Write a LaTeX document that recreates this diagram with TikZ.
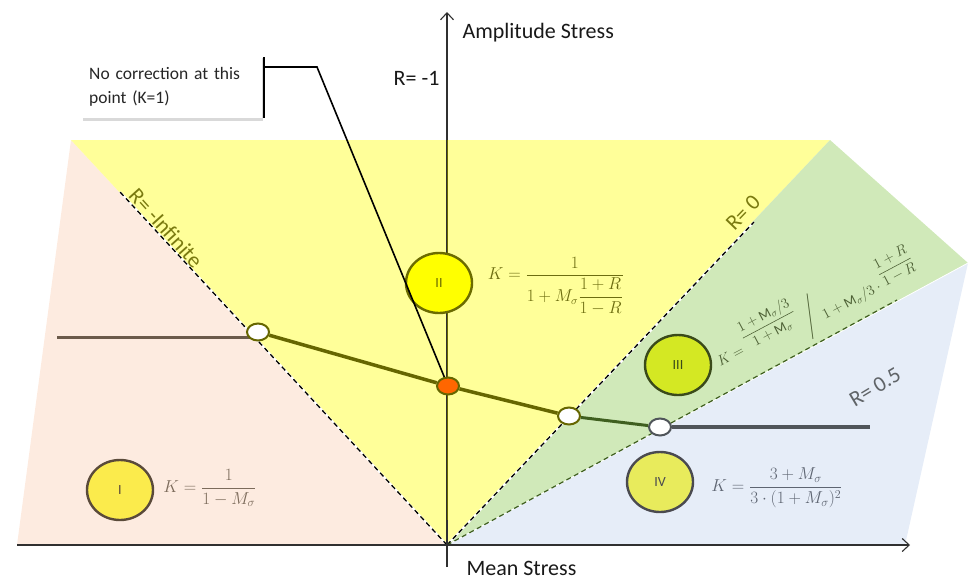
\documentclass[tikz,border=0pt]{standalone}
\usepackage{fontspec}
\setmainfont{Carlito}
\usepackage{amsmath}
\usepackage{graphicx}
\usetikzlibrary{arrows.meta,shapes.geometric,shadows}
\definecolor{pinkc}{HTML}{FDEBE0}
\definecolor{yellowc}{HTML}{FFFF99}
\definecolor{greenc}{HTML}{D0E9B9}
\definecolor{bluec}{HTML}{E6EDF8}
\definecolor{axisc}{HTML}{303030}
\definecolor{olivec}{HTML}{666600}
\definecolor{olivetxt}{HTML}{7A7A10}
\definecolor{dgreenc}{HTML}{3F5F1F}
\definecolor{grayline}{HTML}{50555A}
\definecolor{brownline}{HTML}{6B5A4A}
\definecolor{cIfill}{HTML}{FBEB4C}
\definecolor{cIdraw}{HTML}{5A4A3A}
\definecolor{cIIfill}{HTML}{FFFF00}
\definecolor{cIIdraw}{HTML}{6B6B00}
\definecolor{cIIIfill}{HTML}{D4E823}
\definecolor{cIIIdraw}{HTML}{3A4A1A}
\definecolor{cIVfill}{HTML}{E8EB5C}
\definecolor{cIVdraw}{HTML}{4A4A50}
\definecolor{fIc}{HTML}{7C6B5B}
\definecolor{fIIc}{HTML}{6D6D10}
\definecolor{fIIIc}{HTML}{4D6035}
\definecolor{fIVc}{HTML}{5E6572}
\definecolor{orangec}{HTML}{FF6600}
\definecolor{rhalfc}{HTML}{606468}
\begin{document}
\begin{tikzpicture}[x=1pt,y=-1pt,
  axisline/.style={draw=axisc, line width=1.1pt, -{Straight Barb[length=7pt,width=13pt,line width=1.1pt]}},
  bigcircle/.style={ellipse, minimum width=66pt, minimum height=60pt, line width=2.4pt, inner sep=0pt, font=\fontsize{14}{16}\selectfont},
  pt/.style={ellipse, minimum width=22pt, minimum height=17pt, inner sep=0pt, line width=2pt, fill=white},
  formula/.style={font=\fontsize{17}{20}\selectfont},
  rlabel/.style={font=\fontsize{22}{25}\selectfont},
  axlabel/.style={font=\fontsize{22}{25}\selectfont, text=black!90},
  wdash/.style={draw=white, line width=2pt},
  bdash/.style={draw=black, line width=1.3pt, dash pattern=on 5pt off 3.5pt},
]
\useasboundingbox (0,0) rectangle (968,579);
% regions
\fill[pinkc] (71,140) -- (447,545) -- (17,545) -- cycle;
\fill[yellowc] (71,140) -- (830,140) -- (447,545) -- cycle;
\fill[greenc] (447,545) -- (830,140) -- (968,263) -- cycle;
\fill[bluec] (447,545) -- (968,263) -- (905,545) -- cycle;
\draw[white, line width=0.8pt] (447,545) -- (968,263);
% key coordinates
\coordinate (O) at (447,545);
\coordinate (xa0) at (17,545);
\coordinate (xa1) at (910,545);
\coordinate (ya0) at (447,567);
\coordinate (ya1) at (447,12);
\coordinate (yolive0) at (447,140);
\coordinate (yolive1) at (447,520);
\coordinate (dInf) at (120,192);
\coordinate (dZero) at (754,222);
\coordinate (dHalf) at (897,300);
\coordinate (c1) at (258,332);
\coordinate (c2) at (448,386);
\coordinate (c3) at (569,416);
\coordinate (c4) at (660,427);
\coordinate (L0) at (57,337);
\coordinate (L5) at (870,427);
% dashed boundary lines
\draw[wdash] (O) -- (dInf);
\draw[bdash] (O) -- (dInf);
\draw[wdash] (O) -- (dZero);
\draw[bdash] (O) -- (dZero);
\draw[draw=dgreenc, line width=1.2pt, dash pattern=on 5pt off 3.5pt] (O) -- (dHalf);
% axes
\draw[axisline] (xa0) -- (xa1);
\draw[axisline] (ya0) -- (ya1);
\draw[olivec, line width=1pt] (yolive0) -- (yolive1);
% region labels
\node[rlabel, text=olivetxt, rotate=-48] (rinf) at (166,228) {R= -Infinite};
\node[rlabel, text=olivetxt, rotate=46] (rzero) at (743,213) {R= 0};
\node[rlabel, text=rhalfc, rotate=31] (rhalf) at (875,387) {R= 0.5};
\node[axlabel, anchor=west] (amp) at (459,33) {Amplitude Stress};
\node[axlabel, anchor=west] (mean) at (463,568) {Mean Stress};
\node[axlabel, anchor=east] (rm1) at (443,78) {R= -1};
% big circles
\node[bigcircle, fill=cIfill, draw=cIdraw, text=cIdraw] (I) at (120,490) {I};
\node[bigcircle, fill=cIIfill, draw=cIIdraw, text=cIIdraw] (II) at (439,283) {II};
\node[bigcircle, fill=cIIIfill, draw=cIIIdraw, text=cIIIdraw] (III) at (678,365) {III};
\node[bigcircle, fill=cIVfill, draw=cIVdraw, text=cIVdraw] (IV) at (660,482) {IV};
% formulas
\node[formula, text=fIc] (fI) at (210,488) {$\displaystyle K=\frac{1}{1-M_\sigma}$};
\node[formula, text=fIIc, font=\fontsize{16}{19}\selectfont] (fII) at (556,286) {$\displaystyle K=\frac{1}{1+M_\sigma\dfrac{1+R}{1-R}}$};
\node[formula, text=fIVc] (fIV) at (777,488) {$\displaystyle K=\frac{3+M_\sigma}{3\cdot(1+M_\sigma)^2}$};
\node[formula, text=fIIIc, rotate=28, font=\fontsize{14}{17}\selectfont] (fIII) at (815,310) {$K=\raisebox{1.6ex}{$\dfrac{1+\mathrm{M}_\sigma/3}{1+\mathrm{M}_\sigma}$}\,\raisebox{-0.4ex}{$\Bigg/$}\,\raisebox{-1.2ex}{$1+\mathrm{M}_\sigma/3\cdot\raisebox{1.6ex}{$\dfrac{1+R}{1-R}$}$}$};
% curve lines
\draw[brownline, line width=3pt] (L0) -- (L0 -| c1);
\node[pt, draw=olivec] (P1) at (c1) {};
\node[pt, draw=olivec, fill=orangec] (P2) at (c2) {};
\node[pt, draw=olivec] (P3) at (c3) {};
\node[pt, draw=grayline] (P4) at (c4) {};
\draw[olivec, line width=3.5pt] (P1) -- (P2) -- (P3);
\draw[dgreenc, line width=3pt] (P3) -- (P4);
\draw[grayline, line width=3.5pt] (P4) -- (L5);
% callout
\node[fill=white, drop shadow={shadow xshift=1pt, shadow yshift=-3pt, opacity=0.3}, anchor=north west, minimum width=180pt, minimum height=63pt, text width=166pt, align=left, inner sep=0pt, font=\fontsize{17.5}{24}\selectfont, text=black!85] (call) at (82,55) {No correction at this\\point (K=1)};
\coordinate (b1) at (264,57);
\coordinate (b2) at (264,118);
\coordinate (b3) at (264,67);
\coordinate (b4) at (317,67);
\draw[black, line width=2pt] (b1) -- (b2);
\draw[black, line width=1.6pt] (b3) -- (b4) -- (P2);
\end{tikzpicture}
\end{document}
